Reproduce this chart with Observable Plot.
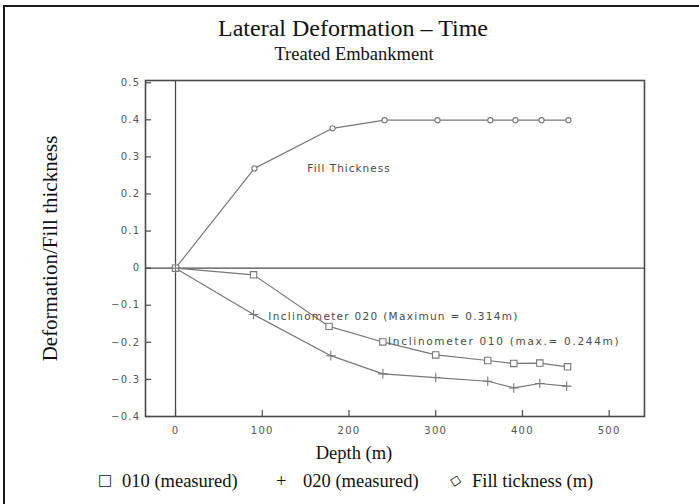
<!DOCTYPE html>
<html>
<head>
<meta charset="utf-8">
<script src="https://cdn.jsdelivr.net/npm/d3@7"></script>
<script src="https://cdn.jsdelivr.net/npm/@observablehq/plot@0.6"></script>
<style>
html, body { margin: 0; padding: 0; background: #fff; }
#wrap { position: relative; width: 699px; height: 504px; overflow: hidden; background: #fff;
  font-family: "Liberation Serif", "Times New Roman", serif; color: #111; }
#chart { position: absolute; left: 0; top: 0; }
#border { position: absolute; left: 3px; top: 5px; right: -10px; bottom: -10px;
  border-left: 2px solid #1a1a1a; border-top: 2px solid #1a1a1a; }
.t { position: absolute; white-space: nowrap; line-height: 1; }
.sym { font-family: "DejaVu Sans", sans-serif; }
#chart g[aria-label*="tick label"] { letter-spacing: 1.3px; }
</style>
</head>
<body>
<div id="wrap">
  <div id="chart"></div>
  <div id="border"></div>
  <div class="t" style="left:353px; top:16px; font-size:24px; transform:translateX(-50%);">Lateral Deformation – Time</div>
  <div class="t" style="left:354px; top:44.5px; font-size:18.5px; transform:translateX(-50%);">Treated Embankment</div>
  <div class="t" style="left:354px; top:444px; font-size:18.5px; transform:translateX(-50%);">Depth (m)</div>
  <div class="t sym" style="left:98px; top:473px; font-size:15px;">□</div>
  <div class="t" style="left:122px; top:471.5px; font-size:18.5px;">010 (measured)</div>
  <div class="t" style="left:276px; top:471.5px; font-size:18.5px;">+</div>
  <div class="t" style="left:303px; top:471.5px; font-size:18.5px;">020 (measured)</div>
  <div class="t sym" style="left:450px; top:473px; font-size:15px; transform:rotate(12deg);">◇</div>
  <div class="t" style="left:472px; top:471.5px; font-size:18.5px;">Fill tickness (m)</div>
</div>
<script>
// ---- data ----
const depth010 = [0, 90, 177, 239, 300, 360, 390, 420, 452];
const def010   = [0, -0.018, -0.157, -0.199, -0.234, -0.249, -0.257, -0.256, -0.266];

const depth020 = [0, 90, 179, 239, 300, 360, 390, 420, 451];
const def020   = [0, -0.125, -0.236, -0.285, -0.295, -0.305, -0.323, -0.311, -0.318];

const depthFill = [0, 91, 181, 241, 302, 363, 392, 422, 453];
const fillThick = [0, 0.269, 0.377, 0.399, 0.399, 0.399, 0.399, 0.399, 0.399];

const xTicks = [0, 100, 200, 300, 400, 500];
const yTicks = [-0.4, -0.3, -0.2, -0.1, 0, 0.1, 0.2, 0.3, 0.4, 0.5];

const annoText  = ["Fill Thickness", "Inclinometer 020 (Maximun = 0.314m)", "Inclinometer 010 (max.= 0.244m)"];
const annoDepth = [152, 107, 245];
const annoValue = [0.269, -0.130, -0.199];
const annoSpacing = [1.0, 1.3, 1.7];

const yLabel = "Deformation/Fill thickness";

// ---- build tables ----
const rows = (ds, vs) => ds.map((d, i) => ({depth: d, value: vs[i]}));
const s010 = rows(depth010, def010);
const s020 = rows(depth020, def020);
const sFill = rows(depthFill, fillThick);
const anno = annoText.map((t, i) => ({label: t, depth: annoDepth[i], value: annoValue[i]}));

const lineColor = "#777777";
const axisColor = "#4a4a4a";
const labelColor = "#555555";
const fmtY = d => d === 0 ? "0" : d3.format(".1f")(d);

const chart = Plot.plot({
  width: 699,
  height: 504,
  marginLeft: 145,
  marginRight: 55,
  marginTop: 80,
  marginBottom: 88,
  x: {domain: [-34.6, 540.7]},
  y: {domain: [-0.4, 0.506]},
  style: {background: "transparent", fontFamily: "DejaVu Sans, sans-serif"},
  marks: [
    Plot.ruleY([0], {stroke: axisColor, strokeWidth: 1.3}),
    Plot.ruleX([0], {stroke: axisColor, strokeWidth: 1.3}),
    Plot.tickX(xTicks, {x: d => d, insetTop: 330, stroke: axisColor, strokeWidth: 1.2}),
    Plot.tickY(yTicks, {y: d => d, insetRight: 493, stroke: axisColor, strokeWidth: 1.2}),
    Plot.frame({stroke: axisColor, strokeWidth: 1.6}),
    Plot.axisX({ticks: xTicks, tickSize: 0, tickPadding: 10, tickFormat: d => String(d),
      fontSize: 10, fill: labelColor, label: null}),
    Plot.axisY({ticks: yTicks, tickSize: 0, tickPadding: 5, tickFormat: fmtY,
      fontSize: 10, fill: labelColor, label: null}),
    Plot.line(sFill, {x: "depth", y: "value", stroke: lineColor, strokeWidth: 1.2}),
    Plot.line(s010, {x: "depth", y: "value", stroke: lineColor, strokeWidth: 1.2}),
    Plot.line(s020, {x: "depth", y: "value", stroke: lineColor, strokeWidth: 1.2}),
    Plot.dot(sFill, {x: "depth", y: "value", symbol: "circle", r: 2.6, stroke: lineColor, fill: "white", strokeWidth: 1.1}),
    Plot.dot(s010, {x: "depth", y: "value", symbol: "square", r: 3.6, stroke: lineColor, fill: "white", strokeWidth: 1.1}),
    Plot.dot(s020, {x: "depth", y: "value", symbol: "plus", r: 3.2, stroke: lineColor, strokeWidth: 1.1}),
    Plot.text(anno, {x: "depth", y: "value", text: "label", textAnchor: "start", lineAnchor: "middle",
      fontSize: 10.5, fill: "#4a4a4a"}),
    Plot.text([yLabel], {text: d => d, frameAnchor: "left", dx: -89, rotate: -90, textAnchor: "middle",
      lineAnchor: "bottom", fontSize: 21, fontFamily: "Liberation Serif, Times New Roman, serif", fill: "#111"})
  ]
});

chart.querySelectorAll("text").forEach(el => {
  const i = annoText.indexOf(el.textContent);
  if (i >= 0) el.style.letterSpacing = annoSpacing[i] + "px";
});

document.getElementById("chart").appendChild(chart);
</script>
</body>
</html>
